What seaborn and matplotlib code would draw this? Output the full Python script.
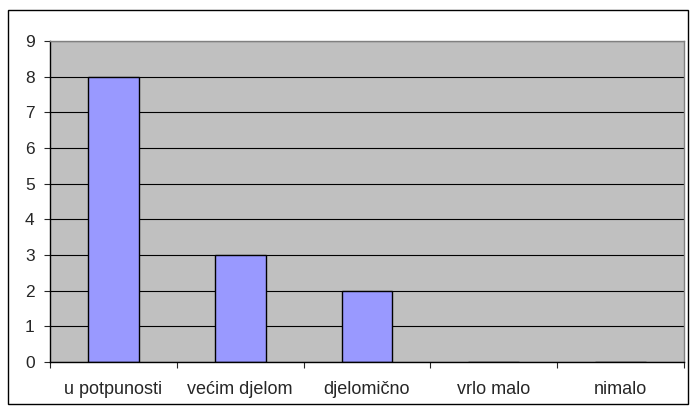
import pandas as pd
import seaborn as sns
import matplotlib.pyplot as plt
from matplotlib.patches import Rectangle
from matplotlib.ticker import FixedLocator

# answer categories and counts
categories = ['u potpunosti', 'većim djelom', 'djelomično', 'vrlo malo', 'nimalo']
counts = [8, 3, 2, 0, 0]
y_ticks = list(range(0, 10))

df = pd.DataFrame({'odgovor': categories, 'broj': counts})

sns.set_style("white")
plt.rcParams['font.family'] = ['Liberation Sans', 'DejaVu Sans']

fig = plt.figure(figsize=(6.92, 4.12), dpi=100)
fig.patch.set_facecolor('white')
fig.patches.append(Rectangle((8 / 692, 8 / 412), 680 / 692, 394 / 412, transform=fig.transFigure,
                             fill=False, edgecolor='black', linewidth=1.0))

ax = fig.add_axes([50 / 692, 50 / 412, 634 / 692, 321 / 412])
ax.set_facecolor('#C0C0C0')

sns.barplot(data=df, x='odgovor', y='broj', ax=ax, color='#9999FF', width=0.4,
            edgecolor='black', linewidth=1.0, saturation=1)

ax.set_ylim(0, 9)
ax.set_xlim(-0.5, len(categories) - 0.5)
ax.set_yticks(y_ticks)
ax.yaxis.grid(True, color='black', linewidth=0.8)
ax.set_axisbelow(True)
ax.set_xlabel('')
ax.set_ylabel('')

ax.tick_params(axis='y', length=4, width=0.8, pad=7, labelsize=12.5, left=True)
ax.tick_params(axis='x', which='major', length=0, pad=14, labelsize=13)
ax.xaxis.set_minor_locator(FixedLocator([i + 0.5 for i in range(-1, len(categories))]))
ax.tick_params(axis='x', which='minor', length=4, width=0.8, bottom=True, direction='out')

for side in ['left', 'bottom']:
    ax.spines[side].set_color('black')
    ax.spines[side].set_linewidth(1.0)
for side in ['top', 'right']:
    ax.spines[side].set_color('#808080')
    ax.spines[side].set_linewidth(1.0)

fig.savefig('out.png', dpi=100)
